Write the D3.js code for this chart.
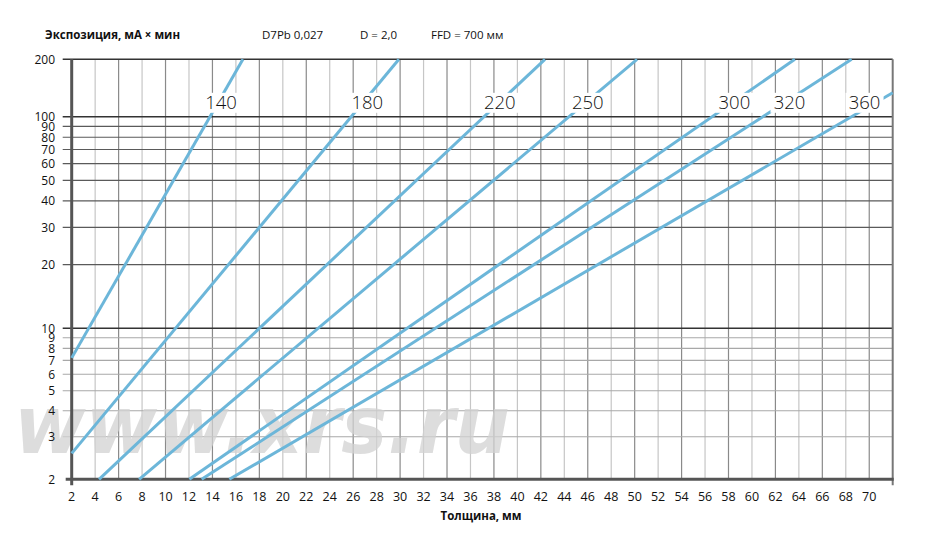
<!DOCTYPE html>
<html>
<head>
<meta charset="utf-8">
<script src="https://cdn.jsdelivr.net/npm/d3@7"></script>
<style>
  body { margin: 0; background: #fff; }
  svg { display: block; font-family: "Open Sans", sans-serif; }
</style>
</head>
<body>
<svg id="chart" width="933" height="536"></svg>
<script>
// kV curves, each a straight line on the log chart: start and end point
const kvLabels = ["140", "180", "220", "250", "300", "320", "360"];
const startThickness = [2, 2, 4.33, 7.75, 12.03, 13.08, 15.44];
const startExposure = [7.2, 2.56, 2, 2, 2, 2, 2];
const endThickness = [16.6, 29.9, 42.35, 50.2, 63.66, 68.5, 72];
const endExposure = [200, 200, 200, 200, 200, 200, 133.6];
// where each kV label sits (mm, exposure at baseline)
const labelThickness = [14.73, 27.2, 38.5, 46.0, 58.5, 63.2, 69.6];
const labelExposure = 110;

const xTicks = [2, 4, 6, 8, 10, 12, 14, 16, 18, 20, 22, 24, 26, 28, 30, 32, 34, 36,
  38, 40, 42, 44, 46, 48, 50, 52, 54, 56, 58, 60, 62, 64, 66, 68, 70];
const yTicks = [2, 3, 4, 5, 6, 7, 8, 9, 10, 20, 30, 40, 50, 60, 70, 80, 90, 100, 200];
const yMajor = [2, 10, 100, 200];

const svg = d3.select("#chart");

const x = d3.scaleLinear().domain([2, 72]).range([71.7, 892.7]);
// the printed chart is not a perfect log grid, so it is piecewise
const y = d3.scaleLog().domain([2, 3, 10, 100, 200]).range([479.3, 436.7, 328.3, 116.7, 59.3]);

const x0 = x(2), x1 = x(72), yTop = y(200), yBot = y(2);

// vertical grid
svg.append("g")
  .selectAll("line")
  .data(xTicks.filter(d => d > 2))
  .enter()
  .append("line")
    .attr("x1", d => x(d)).attr("x2", d => x(d))
    .attr("y1", yTop).attr("y2", yBot)
    .attr("stroke", d => d % 4 === 2 ? "#8a8a8a" : "#c6c6c6")
    .attr("stroke-width", 1.2);

// horizontal grid (runs a little left of the axis as ticks)
svg.append("g")
  .selectAll("line")
  .data(yTicks.filter(d => d !== 2))
  .enter()
  .append("line")
    .attr("x1", x0 - 9).attr("x2", x1)
    .attr("y1", d => y(d)).attr("y2", d => y(d))
    .attr("stroke", d => yMajor.includes(d) ? "#333" : (d >= 20 ? "#5a5a5a" : "#a8a8a8"))
    .attr("stroke-width", d => yMajor.includes(d) ? 1.4 : 1.1);

// watermark
svg.append("text")
  .attr("x", 14).attr("y", 453)
  .attr("font-family", "DejaVu Sans, sans-serif")
  .attr("font-weight", "bold")
  .attr("font-style", "italic")
  .attr("font-size", 80)
  .attr("textLength", 496)
  .attr("lengthAdjust", "spacingAndGlyphs")
  .attr("fill", "#d2d2d2")
  .attr("fill-opacity", 0.75)
  .text("www.xrs.ru");

// frame
svg.append("line")
  .attr("x1", x1).attr("x2", x1).attr("y1", yTop).attr("y2", yBot + 6)
  .attr("stroke", "#777").attr("stroke-width", 2);
svg.append("line")
  .attr("x1", x0 - 6).attr("x2", x1 + 1).attr("y1", yBot).attr("y2", yBot)
  .attr("stroke", "#555").attr("stroke-width", 3);
svg.append("line")
  .attr("x1", x0).attr("x2", x0).attr("y1", yTop).attr("y2", yBot + 6)
  .attr("stroke", "#555").attr("stroke-width", 3);

// kV lines
const line = d3.line().x(d => x(d[0])).y(d => y(d[1]));
svg.append("g")
  .selectAll("path")
  .data(kvLabels.map((k, i) => [[startThickness[i], startExposure[i]], [endThickness[i], endExposure[i]]]))
  .enter()
  .append("path")
    .attr("d", line)
    .attr("fill", "none")
    .attr("stroke", "#6cb6d9")
    .attr("stroke-width", 3);

// kV labels on white patches
const labels = svg.append("g")
  .selectAll("g")
  .data(kvLabels)
  .enter()
  .append("g")
    .attr("transform", (d, i) => `translate(${x(labelThickness[i])},${y(labelExposure)})`);
labels.append("rect")
  .attr("x", -19).attr("y", -16).attr("width", 38).attr("height", 20)
  .attr("fill", "#fff");
labels.append("text")
  .attr("text-anchor", "middle")
  .attr("font-size", 18.5)
  .attr("font-weight", 300)
  .attr("fill", "#111")
  .text(d => d);

// axis tick labels
svg.append("g")
  .selectAll("text")
  .data(xTicks)
  .enter()
  .append("text")
    .attr("x", d => x(d)).attr("y", yBot + 22)
    .attr("text-anchor", "middle")
    .attr("font-size", 12.5)
    .attr("fill", "#111")
    .text(d => d);

svg.append("g")
  .selectAll("text")
  .data(yTicks)
  .enter()
  .append("text")
    .attr("x", 55).attr("y", d => y(d) + 4.5)
    .attr("text-anchor", "end")
    .attr("font-size", 12)
    .attr("fill", "#111")
    .text(d => d);

// header and axis title
svg.append("text")
  .attr("x", 45).attr("y", 39)
  .attr("font-size", 11.5).attr("font-weight", "bold").attr("fill", "#111")
  .text("Экспозиция, мА × мин");
svg.append("text").attr("x", 262).attr("y", 39).attr("font-size", 11.5).attr("fill", "#111").text("D7Pb 0,027");
svg.append("text").attr("x", 360).attr("y", 39).attr("font-size", 11.5).attr("fill", "#111").text("D = 2,0");
svg.append("text").attr("x", 431).attr("y", 39).attr("font-size", 11.5).attr("fill", "#111").text("FFD = 700 мм");

svg.append("text")
  .attr("x", 481).attr("y", 520)
  .attr("text-anchor", "middle")
  .attr("font-size", 11.5).attr("font-weight", "bold").attr("fill", "#111")
  .text("Толщина, мм");
</script>
</body>
</html>
